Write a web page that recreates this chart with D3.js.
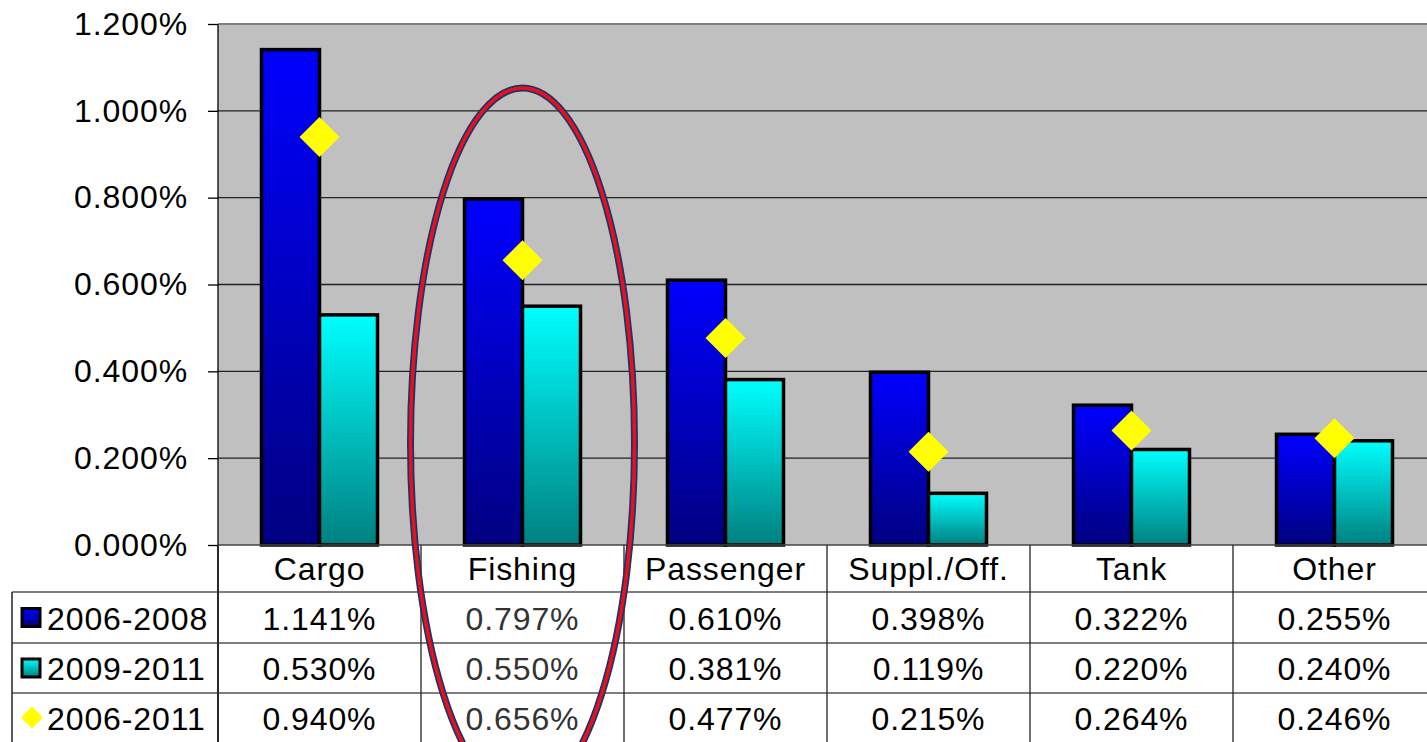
<!DOCTYPE html>
<html><head><meta charset="utf-8">
<script src="https://cdn.jsdelivr.net/npm/d3@7"></script>
<style>body{margin:0;background:#fff;overflow:hidden}svg{display:block}text{font-family:"Liberation Sans",Arial,sans-serif}</style>
</head><body>
<svg id="c" width="1427" height="742"></svg>
<script>
const categories = ["Cargo","Fishing","Passenger","Suppl./Off.","Tank","Other"];
const s2006_2008 = [1.141,0.797,0.610,0.398,0.322,0.255];
const s2009_2011 = [0.530,0.550,0.381,0.119,0.220,0.240];
const s2006_2011 = [0.940,0.656,0.477,0.215,0.264,0.246];
const seriesNames = ["2006-2008","2009-2011","2006-2011"];
const yTicks = [0,0.2,0.4,0.6,0.8,1.0,1.2];

(function(){
const svg = d3.select("#c");
const pL = 218, pR = 1436, pT = 24, pB = 545;
const FS = 32, LS = 0.9;
const x = d3.scaleBand().domain(categories).range([pL,pR]);
const y = d3.scaleLinear().domain([0,1.2]).range([pB,pT]);

const defs = svg.append("defs");
function grad(id,c1,c2){
  const g = defs.append("linearGradient").attr("id",id).attr("x1",0).attr("y1",0).attr("x2",0).attr("y2",1);
  g.append("stop").attr("offset","0%").attr("stop-color",c1);
  g.append("stop").attr("offset","100%").attr("stop-color",c2);
}
grad("gb","#0000ff","#000080");
grad("gc","#00ffff","#008080");

svg.append("rect").attr("x",pL).attr("y",pT).attr("width",pR-pL).attr("height",pB-pT).attr("fill","#c0c0c0");
svg.append("g").selectAll("line").data(yTicks.slice(1)).join("line")
  .attr("x1",pL).attr("x2",pR).attr("y1",d=>y(d)).attr("y2",d=>y(d))
  .attr("stroke",d=>d===1.2?"#808080":"#222").attr("stroke-width",d=>d===1.2?2:1.3);

const yAxis = d3.axisLeft(y).tickValues(yTicks).tickFormat(d=>d.toFixed(3)+"%").tickSize(10).tickPadding(20);
const ga = svg.append("g").attr("transform",`translate(${pL},0)`).call(yAxis);
ga.select(".domain").remove();
ga.selectAll(".tick line").attr("stroke","#000").attr("stroke-width",1.3);
ga.selectAll(".tick text").attr("font-size",FS).attr("letter-spacing",LS).attr("fill","#000").attr("font-family","Liberation Sans, Arial, sans-serif");
svg.append("line").attr("x1",pL).attr("x2",pL).attr("y1",pT).attr("y2",742).attr("stroke","#000").attr("stroke-width",1.3);

const bw = 58;
svg.append("g").selectAll("rect").data(categories).join("rect")
  .attr("x",d=>x(d)+x.bandwidth()/2-bw).attr("width",bw)
  .attr("y",(d,i)=>y(s2006_2008[i])).attr("height",(d,i)=>pB-y(s2006_2008[i]))
  .attr("fill","url(#gb)").attr("stroke","#000").attr("stroke-width",3.5);
svg.append("g").selectAll("rect").data(categories).join("rect")
  .attr("x",d=>x(d)+x.bandwidth()/2).attr("width",bw)
  .attr("y",(d,i)=>y(s2009_2011[i])).attr("height",(d,i)=>pB-y(s2009_2011[i]))
  .attr("fill","url(#gc)").attr("stroke","#000").attr("stroke-width",3.5);
svg.append("line").attr("x1",pL).attr("x2",pR).attr("y1",pB).attr("y2",pB).attr("stroke","#444").attr("stroke-width",1.5);
const dsz = 20;
const diamond = `M0,${-dsz}L${dsz},0L0,${dsz}L${-dsz},0Z`;
svg.append("g").selectAll("path").data(categories).join("path")
  .attr("d",diamond)
  .attr("transform",(d,i)=>`translate(${x(d)+x.bandwidth()/2},${y(s2006_2011[i])})`)
  .attr("fill","#ffff00");

const rowY = [545,592,643,693,742];
const tbl = svg.append("g");
[592,643,693].forEach(v=>tbl.append("line").attr("x1",12).attr("x2",1427).attr("y1",v).attr("y2",v).attr("stroke","#555").attr("stroke-width",1.5));
tbl.selectAll("line.v").data(categories.map(c=>x(c)).concat([pL])).join("line").attr("class","v")
  .attr("x1",d=>d).attr("x2",d=>d).attr("y1",pB).attr("y2",742).attr("stroke","#222").attr("stroke-width",1.3);
tbl.append("line").attr("x1",12).attr("x2",12).attr("y1",592).attr("y2",742).attr("stroke","#222").attr("stroke-width",1.5);
tbl.selectAll("text.h").data(categories).join("text").attr("class","h")
  .attr("x",d=>x(d)+x.bandwidth()/2).attr("y",580).attr("text-anchor","middle")
  .attr("font-size",FS).attr("letter-spacing",LS).attr("fill","#000").text(d=>d);
const rows = [s2006_2008,s2009_2011,s2006_2011];
rows.forEach((arr,r)=>{
  const cy = (rowY[r+1]+rowY[r+2])/2;
  tbl.selectAll("text.r"+r).data(categories).join("text").attr("class","r"+r)
    .attr("x",d=>x(d)+x.bandwidth()/2).attr("y",cy+12).attr("text-anchor","middle")
    .attr("font-size",FS).attr("letter-spacing",LS).attr("fill",(d,i)=>i===1?"#333":"#000").text((d,i)=>arr[i].toFixed(3)+"%");
  tbl.append("text").attr("x",47).attr("y",cy+12).attr("font-size",FS).attr("letter-spacing",LS).attr("fill","#000").text(seriesNames[r]);
  if(r<2){
    tbl.append("rect").attr("x",22).attr("y",cy-9).attr("width",18).attr("height",18)
      .attr("fill",r===0?"url(#gb)":"url(#gc)").attr("stroke","#000").attr("stroke-width",3);
  } else {
    tbl.append("path").attr("d","M0,-11L11,0L0,11L-11,0Z").attr("transform",`translate(32,${cy})`).attr("fill","#ffff00");
  }
});

const ex = x("Fishing")+x.bandwidth()/2;
svg.append("ellipse").attr("cx",ex).attr("cy",443).attr("rx",112).attr("ry",355)
  .attr("fill","none").attr("stroke","#1c3566").attr("stroke-width",7);
svg.append("ellipse").attr("cx",ex).attr("cy",443).attr("rx",112).attr("ry",355)
  .attr("fill","none").attr("stroke","#e8101e").attr("stroke-width",3.5);
})();
</script>
</body></html>
